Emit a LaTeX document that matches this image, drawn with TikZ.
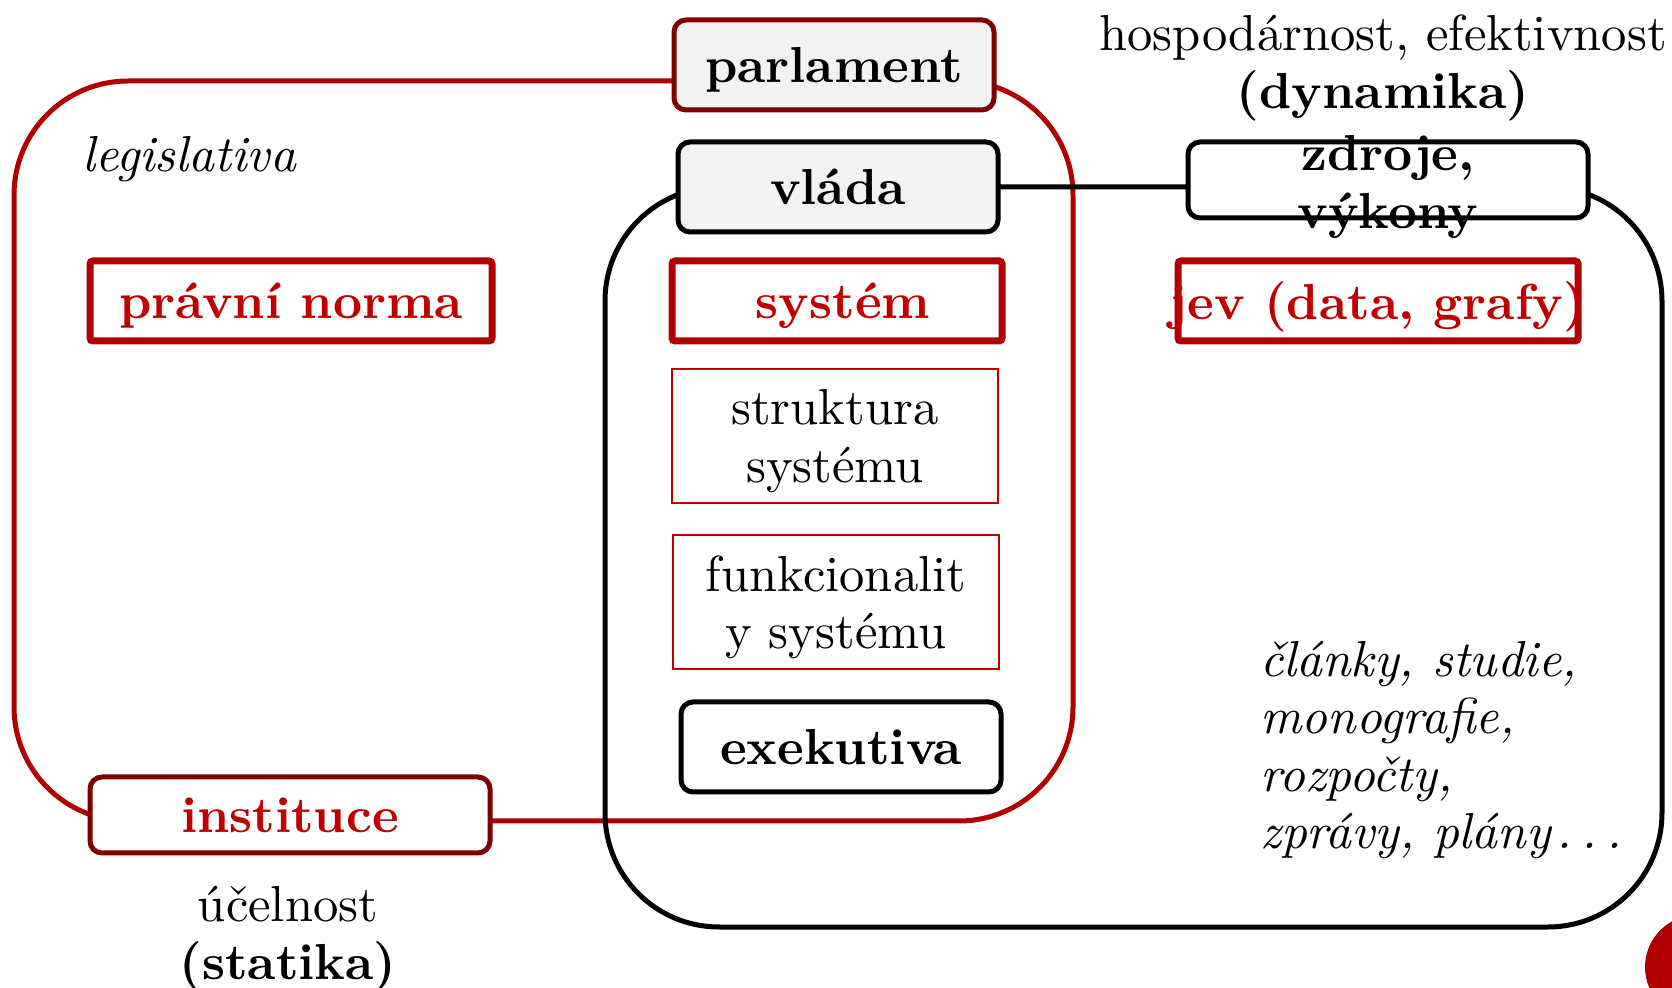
\documentclass[tikz,border=0pt]{standalone}
\usepackage{fontspec}
\setmainfont{lmroman10}[Extension=.otf, UprightFont=*-regular, BoldFont=*-bold,
  ItalicFont=*-italic, BoldItalicFont=*-bolditalic]
\definecolor{frameRed}{HTML}{B00000}
\definecolor{darkRed}{HTML}{7F0000}
\definecolor{textRed}{HTML}{C00000}
\definecolor{boxGrey}{HTML}{F2F2F2}
\newcommand\bigfont{\fontsize{25.3}{28.8}\selectfont}
\newcommand\spaceddots{\kern.12em.\kern.18em.\kern.18em.}
\tikzset{
  plain/.style={font=\bigfont, align=center, inner sep=0pt},
  bold/.style={font=\bigfont\bfseries, align=center, inner sep=0pt},
  greybox/.style={bold, fill=boxGrey, line width=2.5pt, rounded corners=6pt,
    minimum width=160pt, minimum height=45pt, text depth=0pt},
  blackbox/.style={bold, draw=black, fill=white, line width=2.5pt, rounded corners=6pt},
  redbox/.style={bold, draw=frameRed, fill=white, text=textRed, line width=3.5pt,
    rounded corners=1.5pt, minimum height=40pt, text depth=0pt},
  thinbox/.style={plain, draw=textRed, line width=1pt, minimum width=163pt,
    minimum height=67pt, text depth=0pt},
  redframe/.style={draw=frameRed, line width=2.5pt, rounded corners=57pt},
  blackframe/.style={draw=black, line width=2.5pt, rounded corners=57pt}
}
\begin{document}
\begin{tikzpicture}[x=0.5pt,y=-0.5pt]
\useasboundingbox (0,0) rectangle (1672,988);
\coordinate (legTL) at (14,81);
\coordinate (legBR) at (1073,821);
\coordinate (exeTL) at (605,187);
\coordinate (exeBR) at (1662,927);
\draw[redframe] (legTL) rectangle (legBR);
\draw[blackframe] (exeTL) rectangle (exeBR);
\node[greybox, draw=darkRed] (parlament) at (834,65) {parlament};
\node[greybox, draw=black] (vlada) at (838,187) {vláda};
\node[blackbox, minimum width=200pt, minimum height=38pt] (zdroje) at (1388,180) {};
\node[bold] (zdrojetext) at (1388,187) {zdroje,\\výkony};
\node[plain] (hodnoty) at (1383,68) {hospodárnost, efektivnost\\\textbf{(dynamika)}};
\node[plain, anchor=west, font=\bigfont\itshape] (legislativa) at (82,159) {legislativa};
\node[redbox, minimum width=201pt] (norma) at (291,301) {právní norma};
\node[redbox, minimum width=165pt] (system) at (837,301) {\hspace{6pt}systém};
\node[redbox, minimum width=200pt, inner xsep=-6pt] (jev) at (1378,301) {jev (data, grafy)};
\node[thinbox] (struktura) at (835,436) {struktura\\systému};
\node[thinbox] (funkce) at (836,602) {funkcionalit\\y systému};
\node[blackbox, minimum width=160pt, minimum height=45pt, text depth=0pt] (exekutiva) at (841,747) {exekutiva};
\node[redbox, draw=darkRed, rounded corners=6pt, line width=2.5pt,
  minimum width=200pt, minimum height=38pt] (instituce) at (290,815) {instituce};
\node[plain] (ucelnost) at (288,939) {účelnost\\\textbf{(statika)}};
\node[plain, anchor=west, align=left, font=\bigfont\itshape] (clanky) at (1260,750)
  {články, studie,\\monografie,\\rozpočty,\\zprávy, plány\spaceddots};
\fill[frameRed] (1697,967) circle[radius=26pt];
\end{tikzpicture}
\end{document}
